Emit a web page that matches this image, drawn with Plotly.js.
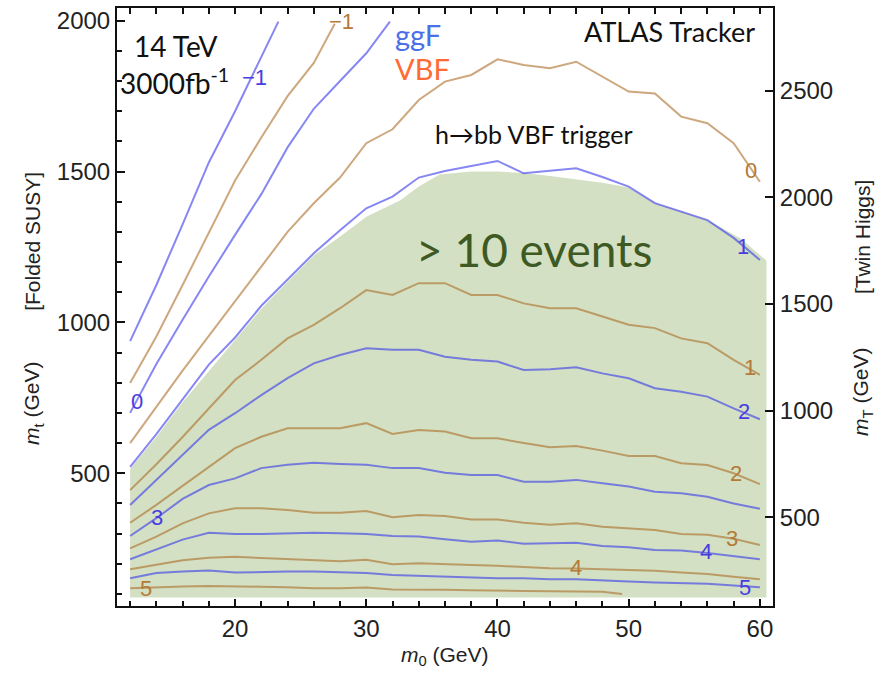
<!DOCTYPE html>
<html>
<head>
<meta charset="utf-8">
<script src="https://cdn.plot.ly/plotly-3.0.1.min.js"></script>
<style>html,body{margin:0;padding:0;background:#fff;}#chart{width:887px;height:673px;}</style>
</head>
<body>
<div id="chart"></div>
<script>
// ---- data (m0 in GeV, m_t in GeV) ----
const m0 = [12,14,16,18,20,22,24,26,28,30,32,34,36,38,40,42,44,46,48,50,52,54,56,58,60];

// ggF contours (blue)
const ggF_m1_x = [12,14,16,18,20,22,23.3];
const ggF_m1_y = [938,1124,1325,1530,1700,1880,1997];
const ggF_0_x = [12,14,16,18,20,22,24,26,28,30,31.8];
const ggF_0_y = [700,862,1009,1152,1290,1425,1580,1708,1800,1892,1997];
const ggF_1 = [521,630,745,860,950,1055,1142,1229,1305,1378,1417,1480,1502,1518,1535,1494,1502,1511,1482,1450,1395,1368,1339,1280,1207];
const ggF_2 = [395,478,561,644,699,759,815,864,892,914,909,909,886,876,870,842,845,851,831,815,782,770,754,715,679];
const ggF_3 = [292,351,415,461,483,517,528,535,531,528,517,517,502,494,494,472,472,478,467,456,439,434,422,400,382];
const ggF_4 = [215,248,280,303,299,299,301,303,301,299,292,290,281,273,277,266,268,270,259,255,246,244,236,226,215];
const ggF_5 = [152,169,174,178,171,173,174,174,171,169,163,160,158,155,152,152,149,149,144,141,138,136,134,128,122];

// VBF contours (brown)
const vbf_m1_x = [12,14,16,18,20,22,24,26,27.6];
const vbf_m1_y = [799,953,1124,1298,1470,1613,1750,1860,1990];
const vbf_0 = [600,720,840,955,1070,1185,1300,1395,1480,1594,1640,1737,1798,1820,1872,1853,1842,1864,1814,1765,1759,1682,1660,1594,1466];
const vbf_1 = [444,530,620,715,809,876,947,992,1047,1107,1091,1130,1130,1091,1091,1063,1047,1047,1019,992,981,947,931,876,826];
const vbf_2 = [336,395,458,522,583,621,649,649,649,666,630,643,638,616,616,600,586,590,575,557,557,533,527,500,464];
const vbf_3 = [251,290,334,367,384,384,378,369,369,375,354,362,358,347,347,336,329,334,323,318,312,299,296,283,262];
const vbf_4 = [182,196,212,220,223,219,215,212,208,213,198,202,200,196,193,188,185,184,182,180,177,171,166,157,149];
const vbf_5_x = [12,14,16,18,20,22,24,26,28,30,32,34,36,38,40,42,44,46,48,49.5];
const vbf_5_y = [119,123,125,126,126,124,122,119,119,121,115,115,114,112,112,110,109,109,107,100];

// "> 10 events" region
const region_x = [12,14,16,18.6,20,22,24,26,28.5,30,32.6,34,35.6,38,40,42,44,46,48,50,52,54,56,58.5,60.5,60.5,12];
const region_y = [515,620,735,870,945,1045,1135,1222,1300,1350,1405,1450,1490,1500,1500,1495,1485,1475,1463,1447,1396,1368,1339,1279,1205,88,88];

// contour labels: [text, m0, m_t]
const ggF_labels = [["\u22121",21.45,1813],["0",12.55,737],["1",58.7,1250],["2",58.8,706],["3",14.06,352],["4",55.9,242],["5",58.9,122]];
const vbf_labels = [["\u22121",28.1,1996],["0",59.3,1502],["1",59.25,852],["2",58.2,498],["3",57.9,285],["4",46.0,186],["5",13.2,119]];

const xTicks = [20,30,40,50,60];
const yTicksLeft = [500,1000,1500,2000];
const yTicksRight = [500,1000,1500,2000,2500];
const scaleRight = Math.SQRT2; // m_T = sqrt(2) m_t

// ---- styles ----
const BLUE = 'rgb(55,55,235)';
const BROWN = 'rgb(172,108,38)';
const OPA = 0.6;
const LW = 2;

const traces = [];
traces.push({x: region_x, y: region_y, type:'scatter', mode:'lines', fill:'toself',
  fillcolor:'#d3e0c4', line:{width:0, color:'#d3e0c4'}, hoverinfo:'skip', showlegend:false});

function addLine(x, y, color){
  traces.push({x:x, y:y, type:'scatter', mode:'lines', line:{color:color, width:LW},
    opacity:OPA, hoverinfo:'skip', showlegend:false});
}
addLine(ggF_m1_x, ggF_m1_y, BLUE);
addLine(ggF_0_x, ggF_0_y, BLUE);
[ggF_1, ggF_2, ggF_3, ggF_4, ggF_5].forEach(s => addLine(m0, s, BLUE));
addLine(vbf_m1_x, vbf_m1_y, BROWN);
[vbf_0, vbf_1, vbf_2, vbf_3, vbf_4].forEach(s => addLine(m0, s, BROWN));
addLine(vbf_5_x, vbf_5_y, BROWN);

// helper traces so the overlay axes exist
traces.push({x:[], y:[], xaxis:'x2', yaxis:'y', type:'scatter', mode:'lines', showlegend:false, hoverinfo:'skip'});
traces.push({x:[], y:[], xaxis:'x', yaxis:'y2', type:'scatter', mode:'lines', showlegend:false, hoverinfo:'skip'});

const yRange = [60, 2042];
const xRange = [11, 61];
const tickFont = {family:'"Liberation Sans", Arial, sans-serif', size:24, color:'#222'};
const gill = '"Lato", "Open Sans", sans-serif';

const annotations = [];
ggF_labels.forEach(l => annotations.push({x:l[1], y:l[2], xref:'x', yref:'y', text:l[0], showarrow:false,
  font:{family:'"Liberation Sans", Arial, sans-serif', size:22, color:'#4a3de0'}}));
vbf_labels.forEach(l => annotations.push({x:l[1], y:l[2], xref:'x', yref:'y', text:l[0], showarrow:false,
  font:{family:'"Liberation Sans", Arial, sans-serif', size:22, color:'#b47a38'}}));

const txt = (text, x, y, size, color, xanchor) => annotations.push({x:x, y:y, xref:'x', yref:'y', text:text,
  showarrow:false, xanchor:xanchor||'center', yanchor:'middle', font:{family:gill, size:size, color:color}});
txt('14 TeV', 15.5, 1916, 28, '#111');
txt('3000fb<sup>-1</sup>', 11.05, 1797, 28, '#111', 'left');
txt('ggF', 32.0, 1953, 29, '#4a6fe6', 'left');
txt('VBF', 32.0, 1843, 29, '#ff6a35', 'left');
txt('ATLAS Tracker', 59.8, 1963, 27, '#111', 'right');
txt('h\u2192bb VBF trigger', 35.1, 1625, 25, '#111', 'left');
txt('> 10 events', 33.6, 1240, 46, '#3e5a22', 'left');

const axTitle = (text, x, y, angle) => annotations.push({x:x, y:y, xref:'paper', yref:'paper', text:text,
  showarrow:false, textangle:angle, xanchor:'center', yanchor:'middle',
  font:{family:'"Liberation Sans", Arial, sans-serif', size:21, color:'#222'}});
axTitle('[Folded SUSY]', -0.128, 0.609, -90);
axTitle('<i>m</i><sub>t</sub> (GeV)', -0.128, 0.338, -90);
axTitle('[Twin Higgs]', 1.1357, 0.617, -90);
axTitle('<i>m</i><sub>T</sub> (GeV)', 1.1357, 0.358, -90);
axTitle('<i>m</i><sub>0</sub> (GeV)', 0.5, -0.083, 0);

const layout = {
  width:887, height:673,
  margin:{l:117, r:114, t:8, b:67, pad:0},
  paper_bgcolor:'#fff', plot_bgcolor:'#fff',
  showlegend:false,
  xaxis:{range:xRange, tickvals:xTicks, ticks:'inside', ticklen:7, tickwidth:2, tickcolor:'#111',
    showline:true, linecolor:'#111', linewidth:2, showgrid:false, zeroline:false, tickfont:tickFont,
    minor:{dtick:2, tick0:0, ticks:'inside', ticklen:5, tickwidth:2, tickcolor:'#111', showgrid:false}},
  xaxis2:{range:xRange, overlaying:'x', side:'top', anchor:'y', tickmode:'linear', tick0:0, dtick:2,
    ticks:'inside', ticklen:6, tickwidth:2, tickcolor:'#111', showticklabels:false,
    showline:true, linecolor:'#111', linewidth:2, showgrid:false, zeroline:false},
  yaxis:{range:yRange, tickvals:yTicksLeft, ticks:'inside', ticklen:8, tickwidth:2, tickcolor:'#111',
    showline:true, linecolor:'#111', linewidth:2, showgrid:false, zeroline:false, tickfont:tickFont,
    minor:{dtick:100, tick0:0, ticks:'inside', ticklen:5, tickwidth:2, tickcolor:'#111', showgrid:false}},
  yaxis2:{range:[yRange[0]*scaleRight, yRange[1]*scaleRight], overlaying:'y', side:'right', anchor:'x',
    tickvals:yTicksRight, ticks:'inside', ticklen:8, tickwidth:2, tickcolor:'#111',
    showline:true, linecolor:'#111', linewidth:2, showgrid:false, zeroline:false, tickfont:tickFont},
  annotations:annotations
};

Plotly.newPlot('chart', traces, layout, {staticPlot:true, displayModeBar:false});
</script>
</body>
</html>
